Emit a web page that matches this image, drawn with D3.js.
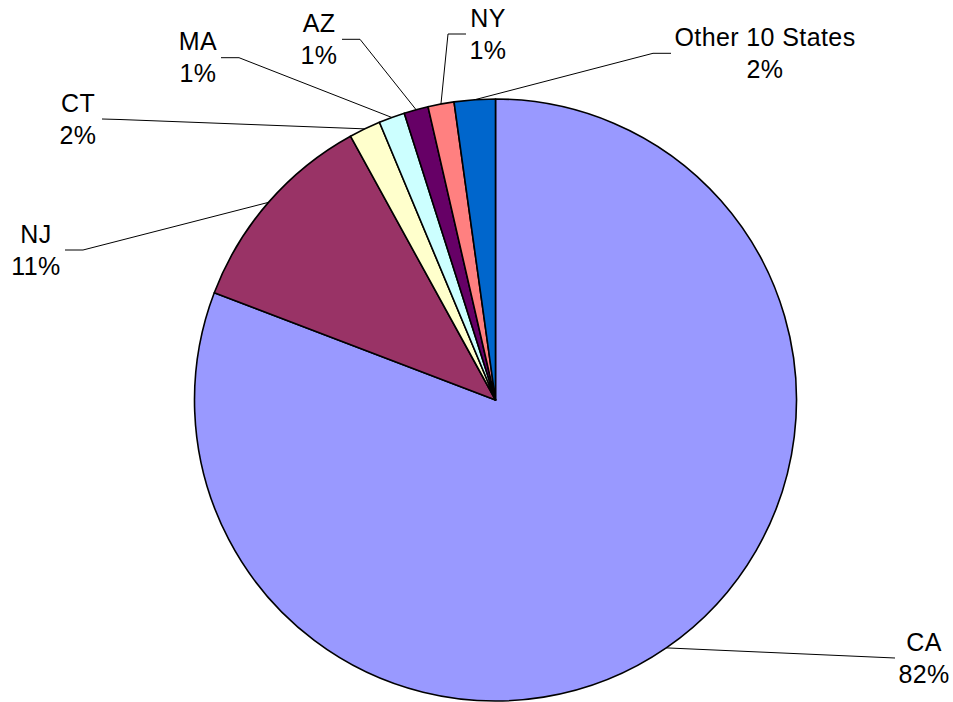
<!DOCTYPE html>
<html>
<head>
<meta charset="utf-8">
<script src="https://cdn.jsdelivr.net/npm/d3@7"></script>
<style>
  body { margin: 0; background: #fff; }
  svg { display: block; }
</style>
</head>
<body>
<div id="chart"></div>
<script>
// Data (share of total, clockwise from 12 o'clock)
const states = ["CA", "NJ", "CT", "MA", "AZ", "NY", "Other 10 States"];
const shares = [80.8, 11.2, 1.7, 1.4, 1.3, 1.4, 2.2];
const pctLabels = ["82%", "11%", "2%", "1%", "1%", "1%", "2%"];
const colors = ["#9999FF", "#993366", "#FFFFCC", "#CCFFFF", "#660066", "#FF8080", "#0066CC"];

// Label placement (text centre, first baseline, leader end + elbow)
const labelLayout = [
  { x: 924, y: 651, end: [895, 658], elbow: [895, 658] },
  { x: 36,  y: 243, end: [65, 250],  elbow: [83, 250] },
  { x: 78,  y: 112, end: [102, 119], elbow: [120, 119.5] },
  { x: 198, y: 49.5, end: [221, 57.7], elbow: [239, 57.7] },
  { x: 319, y: 31.5, end: [342, 39.3], elbow: [360, 39.3] },
  { x: 488, y: 26.5, end: [466, 34],  elbow: [448, 34] },
  { x: 765, y: 45.5, end: [671, 53.3], elbow: [653, 53.3] }
];

const width = 953, height = 702;
const cx = 495.5, cy = 400, radius = 301;
const lineGap = 32;

const svg = d3.select("#chart").append("svg")
  .attr("width", width)
  .attr("height", height);

const pie = d3.pie().sort(null).value(d => d);
const arcs = pie(shares);
const arc = d3.arc().innerRadius(0).outerRadius(radius);

const g = svg.append("g").attr("transform", `translate(${cx},${cy})`);

g.selectAll("path")
  .data(arcs)
  .join("path")
    .attr("d", arc)
    .attr("fill", (d, i) => colors[i])
    .attr("stroke", "#000")
    .attr("stroke-width", 1.6)
    .attr("stroke-linejoin", "round");

// Leader lines: start at the slice's mid angle on the rim
const leaders = svg.append("g");
arcs.forEach((d, i) => {
  const a = (d.startAngle + d.endAngle) / 2;
  const p0 = [cx + radius * Math.sin(a), cy - radius * Math.cos(a)];
  const L = labelLayout[i];
  leaders.append("path")
    .attr("d", d3.line()([p0, L.elbow, L.end]))
    .attr("fill", "none")
    .attr("stroke", "#000")
    .attr("stroke-width", 1);
});

const labels = svg.append("g")
  .attr("font-family", "'Liberation Sans', Arial, sans-serif")
  .attr("font-size", 25)
  .attr("letter-spacing", 0.4)
  .attr("fill", "#000")
  .attr("text-anchor", "middle");

states.forEach((s, i) => {
  const L = labelLayout[i];
  labels.append("text").attr("x", L.x).attr("y", L.y).text(s);
  labels.append("text").attr("x", L.x).attr("y", L.y + lineGap).text(pctLabels[i]);
});
</script>
</body>
</html>
